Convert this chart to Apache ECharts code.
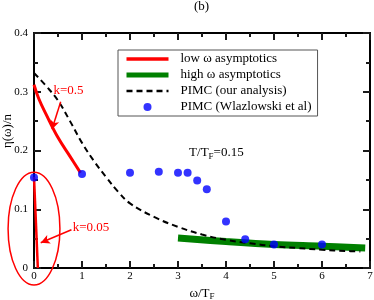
<!DOCTYPE html>
<html><head><meta charset="utf-8">
<script src="https://cdn.jsdelivr.net/npm/echarts@6/dist/echarts.min.js"></script>
<style>html,body{margin:0;padding:0;background:#fff}#c{width:374px;height:300px}</style>
</head><body><div id="c"></div>
<script>
// Data
const wlazX = [0, 1, 2, 2.6, 3, 3.2, 3.4, 3.6, 4, 4.4, 5, 6];
const wlazY = [0.154, 0.16, 0.162, 0.164, 0.162, 0.162, 0.149, 0.134, 0.079, 0.049, 0.04, 0.04];
const pimcX = [0, 0.25, 0.5, 0.75, 1, 1.25, 1.5, 1.75, 2, 2.5, 3, 3.5, 4, 4.5, 5, 5.5, 6, 6.5, 6.8];
const pimcY = [0.332, 0.31, 0.285, 0.25, 0.213, 0.182, 0.155, 0.13, 0.11, 0.087, 0.07, 0.057, 0.048, 0.042, 0.037, 0.034, 0.031, 0.029, 0.028];
const lowX = [0, 0.1, 0.25, 0.5, 0.75, 0.97];
const lowY = [0.312, 0.288, 0.262, 0.222, 0.19, 0.162];
const lowSmallX = [0, 0.08];
const lowSmallY = [0.155, 0];
const highX = [3, 4, 5, 6, 6.9];
const highY = [0.051, 0.045, 0.040, 0.037, 0.034];
const xTicks = [0, 1, 2, 3, 4, 5, 6, 7];
const yTicks = [0, 0.1, 0.2, 0.3, 0.4];
// annotations (data coordinates)
const ellipseK005 = [0, 0.067, 0.54, 0.096];
const labelK05 = [0.72, 0.302];
const labelK005 = [0.806, 0.068];
const labelT = [3.8, 0.196];

const seriesNames = ['low ω asymptotics', 'high ω asymptotics', 'PIMC (our analysis)', 'PIMC (Wlazlowski et al)'];
const zip = (xs, ys) => xs.map((x, i) => [x, ys[i]]);
const FONT = 'Liberation Serif';

function axisBase(extra) {
  return Object.assign({
    type: 'value',
    axisLine: { show: true, onZero: false, lineStyle: { color: '#000', width: 2 } },
    axisTick: { show: true, inside: true, length: 7, lineStyle: { color: '#1a1a1a', width: 2 } },
    minorTick: { show: true, splitNumber: 2, length: 4, lineStyle: { color: '#1a1a1a', width: 2 } },
    splitLine: { show: false }
  }, extra);
}

const option = {
  animation: false,
  title: { text: '(b)', left: 194, top: 0, padding: 0,
    textStyle: { fontFamily: FONT, fontSize: 13, fontWeight: 'normal', color: '#000' } },
  grid: { left: 34, right: 4, top: 33, bottom: 32, outerBoundsMode: 'none' },
  legend: {
    orient: 'vertical', left: 118, top: 50,
    backgroundColor: '#fff', borderColor: '#555', borderWidth: 1, borderRadius: 0,
    padding: [2, 6, 2, 6], itemGap: 2, itemWidth: 42, itemHeight: 8,
    textStyle: { fontFamily: FONT, fontSize: 13, color: '#000', lineHeight: 14, padding: [0, 0, 0, 7] },
    data: [
      { name: seriesNames[0], itemStyle: { opacity: 0 }, lineStyle: { width: 3.5 } },
      { name: seriesNames[1], itemStyle: { opacity: 0 }, lineStyle: { width: 5 } },
      { name: seriesNames[2], itemStyle: { opacity: 0 }, lineStyle: { width: 2.5 } },
      { name: seriesNames[3] }
    ]
  },
  graphic: [
    { type: 'text', z: 100, x: 8, y: 131, rotation: Math.PI / 2,
      style: { text: 'η(ω)/n', fill: '#000', font: '13px "Liberation Serif"', align: 'center', verticalAlign: 'middle' } }
  ],
  xAxis: [
    axisBase({
      min: xTicks[0], max: xTicks[xTicks.length - 1], interval: 1, position: 'bottom',
      axisLabel: { show: true, fontFamily: FONT, fontSize: 11, color: '#000', margin: 3 },
      name: '{a|ω/T}{s|F}', nameLocation: 'middle', nameGap: 14,
      nameTextStyle: { rich: {
        a: { fontFamily: FONT, fontSize: 13, color: '#000' },
        s: { fontFamily: FONT, fontSize: 9, color: '#000', padding: [7, 0, 0, 0] } } }
    }),
    axisBase({
      min: xTicks[0], max: xTicks[xTicks.length - 1], interval: 1, position: 'top',
      axisLabel: { show: false }
    })
  ],
  yAxis: [
    axisBase({
      min: yTicks[0], max: yTicks[yTicks.length - 1], interval: 0.1, position: 'left',
      axisLabel: { show: true, fontFamily: FONT, fontSize: 11, color: '#000', margin: 6 }
    }),
    axisBase({
      min: yTicks[0], max: yTicks[yTicks.length - 1], interval: 0.1, position: 'right',
      axisLabel: { show: false }
    })
  ],
  series: [
    { name: seriesNames[0], type: 'line', data: zip(lowX, lowY), smooth: 0.4, symbol: 'none',
      lineStyle: { color: '#ff0000', width: 3 }, itemStyle: { color: '#ff0000' }, z: 2,
      markLine: {
        silent: true, symbol: ['none', 'arrow'], symbolSize: [7, 9], animation: false,
        lineStyle: { color: '#ff0000', width: 1.5, type: 'solid' }, label: { show: false },
        data: [
          [{ coord: [0.556, 0.283] }, { coord: [0.375, 0.236] }],
          [{ coord: [0.78, 0.065] }, { coord: [0.14, 0.043] }]
        ]
      } },
    { name: seriesNames[0], type: 'line', data: zip(lowSmallX, lowSmallY), symbol: 'none',
      lineStyle: { color: '#ff0000', width: 2.5 }, itemStyle: { color: '#ff0000' }, z: 2 },
    { name: seriesNames[1], type: 'line', data: zip(highX, highY), smooth: 0.4, symbol: 'none',
      lineStyle: { color: '#008000', width: 7 }, itemStyle: { color: '#008000' }, z: 3 },
    { name: seriesNames[2], type: 'line', data: zip(pimcX, pimcY), smooth: 0.4, symbol: 'none',
      lineStyle: { color: '#000', width: 2, type: [6, 4] }, itemStyle: { color: '#000' }, z: 4 },
    { name: seriesNames[3], type: 'scatter', data: zip(wlazX, wlazY), symbol: 'circle', symbolSize: 8,
      itemStyle: { color: '#0000ff' }, z: 5 },
    { name: 'annot', type: 'custom', silent: true, clip: false, z: 7,
      data: [
        [ellipseK005[0], ellipseK005[1], ellipseK005[2], ellipseK005[3], 0],
        [labelK05[0], labelK05[1], 0, 0, 1],
        [labelK005[0], labelK005[1], 0, 0, 2],
        [labelT[0], labelT[1], 0, 0, 3]
      ],
      renderItem: function (params, api) {
        const kind = api.value(4);
        const c = api.coord([api.value(0), api.value(1)]);
        if (kind === 0) {
          const e = api.coord([api.value(0) + api.value(2), api.value(1) + api.value(3)]);
          return { type: 'ellipse', shape: { cx: c[0], cy: c[1], rx: e[0] - c[0], ry: c[1] - e[1] },
            style: { fill: 'none', stroke: '#ff0000', lineWidth: 1.5 } };
        }
        if (kind === 1) {
          return { type: 'text', x: c[0], y: c[1], style: { text: 'k=0.5', fill: '#ff0000',
            font: '13px "Liberation Serif"', align: 'center', verticalAlign: 'middle' } };
        }
        if (kind === 2) {
          return { type: 'text', x: c[0], y: c[1], style: { text: 'k=0.05', fill: '#ff0000',
            font: '13px "Liberation Serif"', align: 'left', verticalAlign: 'middle' } };
        }
        return { type: 'text', x: c[0], y: c[1], style: {
          text: '{a|T/T}{s|F}{a|=0.15}', align: 'center', verticalAlign: 'middle',
          rich: { a: { fontFamily: FONT, fontSize: 13, fill: '#000' },
                  s: { fontFamily: FONT, fontSize: 9, fill: '#000', padding: [7, 0, 0, 0] } } } };
      } }
  ]
};

const chart = echarts.init(document.getElementById('c'), null, { renderer: 'canvas' });
chart.setOption(option);
</script>
</body></html>
